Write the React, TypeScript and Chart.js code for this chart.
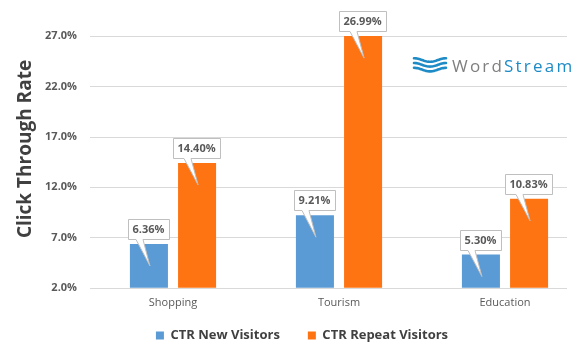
import React, { useEffect, useRef } from "react";
import { Chart, registerables } from "chart.js";

Chart.register(...registerables);

// ---- data ----
const categories = ["Shopping", "Tourism", "Education"];
const newVisitorsCTR = [6.36, 9.21, 5.3];
const repeatVisitorsCTR = [14.4, 26.99, 10.83];
const yTickValues = [2, 7, 12, 17, 22, 27];
const seriesLabels = ["CTR New Visitors", "CTR Repeat Visitors"];
const yAxisTitle = "Click Through Rate";
const logoWord = "Word";
const logoStream = "Stream";

// ---- styles ----
const BLUE = "#5B9BD5";
const ORANGE = "#FF7412";
const FONT = "'Open Sans', sans-serif";

export default function App() {
  const ref = useRef<HTMLCanvasElement>(null);

  useEffect(() => {
    const canvas = ref.current;
    if (!canvas) return;

    const gridPlugin = {
      id: "customGrid",
      beforeDatasetsDraw(chart: any) {
        const { ctx, chartArea, scales } = chart;
        const y = scales.y;
        ctx.save();
        ctx.strokeStyle = "#d9d9d9";
        ctx.lineWidth = 1;
        y.ticks.forEach((t: any) => {
          const py = Math.round(y.getPixelForValue(t.value)) + 0.5;
          ctx.beginPath();
          ctx.moveTo(chartArea.left, py);
          ctx.lineTo(567, py);
          ctx.stroke();
        });
        ctx.restore();
      },
    };

    const legendShift = {
      id: "legendShift",
      afterLayout(chart: any) {
        const l = chart.legend;
        if (l) {
          l.top -= 16;
          l.bottom -= 16;
        }
      },
    };

    const calloutPlugin = {
      id: "callouts",
      afterDatasetsDraw(chart: any) {
        const { ctx } = chart;
        ctx.save();
        ctx.font = `bold 11px ${FONT}`;
        chart.data.datasets.forEach((ds: any, di: number) => {
          const meta = chart.getDatasetMeta(di);
          meta.data.forEach((bar: any, i: number) => {
            const v = ds.data[i] as number;
            const text = v.toFixed(2) + "%";
            const tw = ctx.measureText(text).width;
            const w = Math.round(tw + 9);
            const h = 20;
            const cx = Math.round(bar.x - 1);
            const bottom = Math.round(bar.y - 5) + 0.5;
            const top = bottom - h;
            const left = Math.round(cx - w / 2) + 0.5;
            const right = left + w;
            ctx.beginPath();
            ctx.moveTo(left, top);
            ctx.lineTo(right, top);
            ctx.lineTo(right, bottom);
            ctx.lineTo(cx - 5, bottom);
            ctx.lineTo(bar.x + 1, bar.y + 22);
            ctx.lineTo(cx - 12, bottom);
            ctx.lineTo(left, bottom);
            ctx.closePath();
            ctx.fillStyle = "#ffffff";
            ctx.fill();
            ctx.strokeStyle = "#bfbfbf";
            ctx.lineWidth = 1;
            ctx.stroke();
            ctx.fillStyle = "#595959";
            ctx.textAlign = "center";
            ctx.textBaseline = "middle";
            ctx.fillText(text, cx + 0.5, top + h / 2 + 0.5);
          });
        });
        ctx.restore();
      },
    };

    const decorPlugin = {
      id: "decor",
      afterDraw(chart: any) {
        const { ctx } = chart;
        // y axis title
        ctx.save();
        ctx.translate(26, 149);
        ctx.rotate(-Math.PI / 2);
        ctx.font = `bold 19px ${FONT}`;
        ctx.fillStyle = "#404040";
        ctx.textAlign = "center";
        ctx.textBaseline = "middle";
        ctx.fillText(yAxisTitle, 0, 0);
        ctx.restore();

        // logo waves
        ctx.save();
        ctx.strokeStyle = "#1F8BC6";
        ctx.lineWidth = 2.6;
        ctx.lineCap = "round";
        ctx.lineJoin = "round";
        for (let k = 0; k < 3; k++) {
          const y0 = 60 + k * 4.8;
          ctx.beginPath();
          for (let s = 0; s <= 32; s++) {
            const px = 414 + s;
            const py = y0 - 1.8 * Math.cos((s / 32) * Math.PI * 2);
            if (s === 0) ctx.moveTo(px, py);
            else ctx.lineTo(px, py);
          }
          ctx.stroke();
        }
        ctx.restore();

        // logo text
        ctx.save();
        ctx.font = `17px ${FONT}`;
        (ctx as any).letterSpacing = "2.2px";
        ctx.textAlign = "left";
        ctx.textBaseline = "alphabetic";
        ctx.fillStyle = "#7F7F7F";
        ctx.fillText(logoWord, 452, 71.5);
        const ww = ctx.measureText(logoWord).width;
        ctx.fillStyle = "#1F8BC6";
        ctx.fillText(logoStream, 452 + ww, 71.5);
        ctx.restore();
      },
    };

    const chart = new Chart(canvas, {
      type: "bar",
      data: {
        labels: categories,
        datasets: [
          {
            label: seriesLabels[0],
            data: newVisitorsCTR,
            backgroundColor: BLUE,
            categoryPercentage: 0.58,
            barPercentage: 0.79,
          },
          {
            label: seriesLabels[1],
            data: repeatVisitorsCTR,
            backgroundColor: ORANGE,
            categoryPercentage: 0.58,
            barPercentage: 0.79,
          },
        ],
      },
      options: {
        responsive: false,
        animation: false,
        devicePixelRatio: 1,
        layout: { padding: { top: 36, left: 16, right: 0, bottom: -5 } },
        plugins: {
          legend: {
            position: "bottom",
            maxHeight: 44,
            labels: {
              boxWidth: 8,
              boxHeight: 8,
              padding: 28,
              color: "#404040",
              font: { family: FONT, size: 13, weight: "bold" },
            },
          },
          tooltip: { enabled: false },
        },
        scales: {
          x: {
            grid: { display: false, drawTicks: false },
            border: { display: false },
            ticks: {
              color: "#595959",
              font: { family: FONT, size: 11 },
              padding: 8,
            },
          },
          y: {
            min: 2,
            max: 27,
            grid: { display: false, drawTicks: false },
            border: { display: false },
            afterBuildTicks: (s: any) => {
              s.ticks = yTickValues.map((v) => ({ value: v }));
            },
            ticks: {
              color: "#595959",
              font: { family: FONT, size: 11, weight: "bold" },
              padding: 13,
              callback: (v: any) => Number(v).toFixed(1) + "%",
            },
            afterFit: (s: any) => {
              s.width = 74;
            },
          },
        },
      } as any,
      plugins: [gridPlugin, legendShift, calloutPlugin, decorPlugin],
    });

    return () => chart.destroy();
  }, []);

  return (
    <div
      style={{
        position: "fixed",
        left: 0,
        top: 0,
        width: 582,
        height: 356,
        overflow: "hidden",
        background: "#ffffff",
      }}
    >
      <canvas ref={ref} width={588} height={356} style={{ width: 588, height: 356, display: "block" }} />
    </div>
  );
}
